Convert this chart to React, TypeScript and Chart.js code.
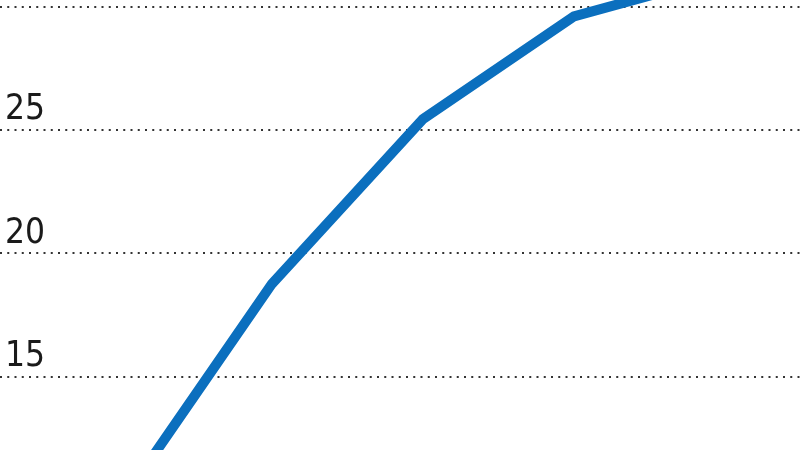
import React, { useEffect, useRef } from "react";
import { Chart, registerables } from "chart.js";

Chart.register(...registerables);

// Data
const periods = [0, 1, 2, 3, 4];
const values = [9.9, 18.77, 25.45, 29.62, 31.3];
const yTickValues = [15, 20, 25, 30];

const LINE_COLOR = "#0b6fbe";

export default function App() {
  const ref = useRef<HTMLCanvasElement | null>(null);

  useEffect(() => {
    document.body.style.margin = "0";
    const canvas = ref.current;
    if (!canvas) return;
    const chart = new Chart(canvas, {
      type: "line",
      data: {
        datasets: [
          {
            data: periods.map((p, i) => ({ x: p, y: values[i] })),
            borderColor: LINE_COLOR,
            borderWidth: 10,
            pointRadius: 0,
            tension: 0,
            fill: false,
          },
        ],
      },
      options: {
        animation: false,
        responsive: false,
        devicePixelRatio: 1,
        layout: { padding: 0, autoPadding: false },
        plugins: { legend: { display: false }, tooltip: { enabled: false } },
        scales: {
          x: {
            type: "linear",
            display: false,
            min: -0.801,
            max: 4.497,
          },
          y: {
            type: "linear",
            min: 12.026,
            max: 30.284,
            afterBuildTicks: (axis: any) => {
              axis.ticks = yTickValues.map((v) => ({ value: v }));
            },
            afterFit: (axis: any) => {
              axis.width = 0;
              axis.paddingTop = 0;
              axis.paddingBottom = 0;
              axis.paddingLeft = 0;
              axis.paddingRight = 0;
            },
            border: { display: false, dash: [2, 5.25] },
            grid: {
              drawTicks: false,
              color: "#333333",
              lineWidth: 2,
            },
            ticks: {
              mirror: true,
              padding: 5,
              labelOffset: -20,
              color: "#1a1a1a",
              font: {
                family: "'DejaVu Sans Condensed', 'Liberation Sans', sans-serif",
                size: 35,
              },
            },
          },
        },
      },
    });
    return () => chart.destroy();
  }, []);

  return (
    <div style={{ position: "absolute", left: 0, top: 0, width: 800, height: 450 }}>
      <canvas ref={ref} width={800} height={450} />
    </div>
  );
}
